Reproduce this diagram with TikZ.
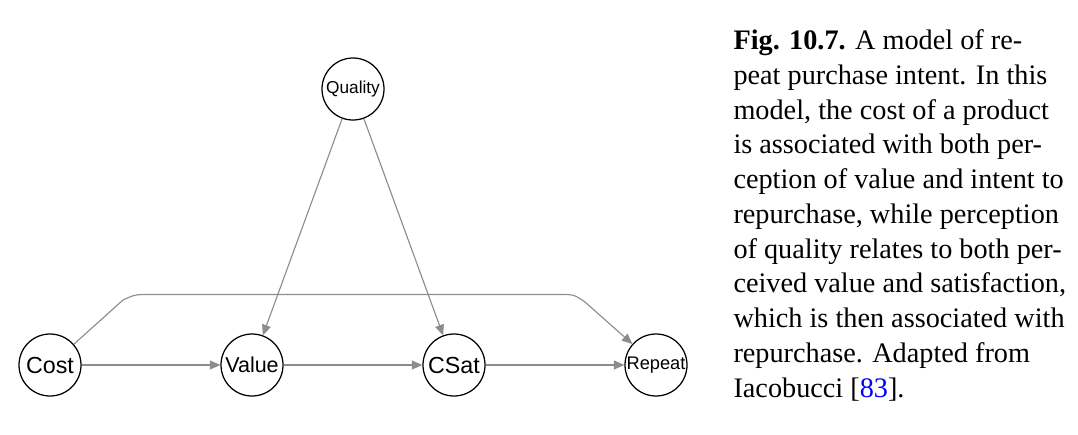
\documentclass[tikz,border=0pt]{standalone}
\usepackage{fontspec}
\setmainfont{Liberation Serif}
\setsansfont{Liberation Sans}
\usetikzlibrary{arrows.meta}
\tikzset{
  var/.style={draw,circle,minimum size=24.8pt,inner sep=0pt,line width=0.5pt,font=\sffamily},
  link/.style={->,draw=black!45,line width=0.45pt},
}
\begin{document}
\begin{tikzpicture}[x=0.4pt,y=-0.4pt,>={Triangle[length=4.2pt,width=3.6pt]}]
                \useasboundingbox (0,0) rectangle (1078,434);
                \node[var,font=\sffamily\fontsize{6.9}{8}\selectfont] (quality) at (353,89) {Quality};
                \node[var,font=\sffamily\fontsize{9.3}{11}\selectfont] (cost) at (50,365) {Cost};
                \node[var,font=\sffamily\fontsize{8.6}{10}\selectfont] (value) at (252,365) {Value};
                \node[var,font=\sffamily\fontsize{9.3}{11}\selectfont] (csat) at (454,365) {CSat};
                \node[var,font=\sffamily\fontsize{7.3}{9}\selectfont] (repeat) at (656,365) {Repeat};
                \draw[link] (cost) -- (value);
                \draw[link] (value) -- (csat);
                \draw[link] (csat) -- (repeat);
                \draw[link] (quality) -- (value);
                \draw[link] (quality) -- (csat);
                \draw[link] (cost.41) -- (123,300) .. controls (135,294.5) .. (150,294.5)
                    -- (560,294.5) .. controls (574,294.5) .. (585,302) -- (repeat);
                % caption
                \node[anchor=base west,align=left,inner sep=0pt,font=\fontsize{11.3}{13.9}\selectfont] (caption) at (733,397)
                    {\textbf{Fig. 10.7.} A model of re-\\
                     peat purchase intent. In this\\
                     model, the cost of a product\\
                     is associated with both per-\\
                     ception of value and intent to\\
                     repurchase, while perception\\
                     of quality relates to both per-\\
                     ceived value and satisfaction,\\
                     which is then associated with\\
                     repurchase. Adapted from\\
                     Iacobucci [\textcolor{blue}{83}].};
            \end{tikzpicture}
\end{document}
